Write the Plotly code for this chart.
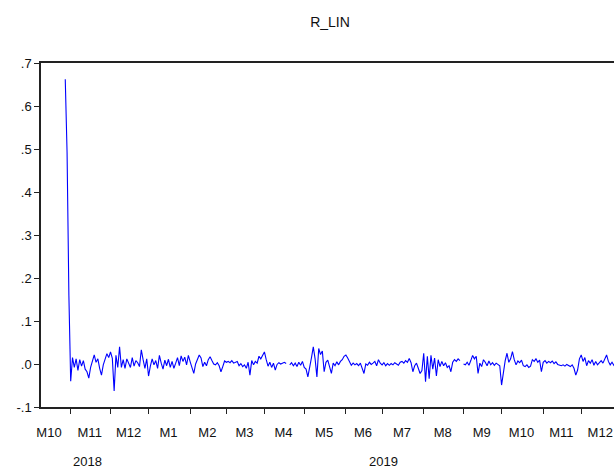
import pandas as pd
import plotly.graph_objects as go

# Daily (5-day week) series R_LIN, first observation 2018-10-29
series_name = "R_LIN"
first_obs = "2018-10-29"
calendar_start = "2018-10-01"
calendar_end = "2019-12-31"

r_lin = [
    0.662, 0.492, 0.160, -0.040, 0.015, -0.008, 0.012, -0.015, 0.010, -0.005,
    0.008, -0.012, -0.018, -0.033, -0.008, 0.010, 0.021, 0.004, 0.012, -0.010,
    -0.026, -0.002, 0.010, 0.024, 0.015, 0.028, 0.013, -0.063, 0.020, -0.008,
    0.040, -0.008, 0.010, -0.010, 0.012, 0.002, -0.008, 0.015, -0.005, 0.008,
    0.003, -0.006, 0.033, 0.010, -0.010, 0.012, -0.028, -0.005, 0.012, -0.002,
    0.008, -0.010, 0.020, 0.002, -0.012, 0.009, -0.004, 0.011, -0.008, 0.006,
    -0.010, 0.002, 0.015, -0.004, 0.019, 0.006, 0.016, -0.002, 0.020, 0.005,
    -0.008, -0.022, 0.000, 0.012, 0.021, 0.014, -0.006, 0.004, -0.004, 0.010,
    0.017, 0.008, 0.000, -0.002, 0.003, -0.004, -0.018, -0.006, 0.007, 0.004,
    0.006, 0.003, 0.008, 0.002, 0.005, 0.006, -0.004, 0.001, -0.006, -0.002,
    -0.010, 0.004, -0.026, 0.008, -0.002, 0.006, 0.002, 0.018, 0.012, 0.022,
    0.028, 0.010, -0.005, 0.004, -0.008, 0.002, -0.014, -0.001, 0.003, 0.000,
    0.002, 0.004, 0.001, None, -0.002, 0.003, -0.004, 0.002, -0.006, 0.004,
    -0.003, 0.006, -0.008, -0.012, -0.030, -0.010, 0.015, 0.040, 0.012, -0.030,
    0.036, 0.022, 0.030, -0.018, 0.004, 0.009, -0.006, -0.022, 0.002, -0.004,
    0.005, -0.002, 0.006, 0.010, 0.018, 0.021, 0.014, 0.004, -0.003, 0.002,
    -0.002, 0.001, -0.004, 0.002, -0.008, -0.022, 0.000, -0.003, 0.004, -0.001,
    0.002, 0.006, -0.004, 0.010, 0.002, -0.002, 0.003, -0.004, 0.001, -0.003,
    0.001, -0.002, 0.003, 0.000, -0.003, 0.004, 0.006, 0.002, 0.008, 0.004,
    0.013, 0.003, -0.018, -0.004, 0.002, -0.010, -0.022, -0.015, 0.025, -0.041,
    0.018, -0.034, 0.020, -0.012, 0.014, -0.028, 0.010, -0.006, 0.006, -0.004,
    0.003, -0.008, -0.004, -0.018, 0.004, 0.010, 0.006, 0.012, 0.008, None,
    0.000, -0.002, 0.004, -0.003, 0.008, 0.020, 0.012, 0.018, -0.022, 0.002,
    -0.006, 0.010, 0.004, -0.004, 0.007, -0.002, 0.003, -0.003, 0.002, -0.001,
    -0.004, -0.049, -0.020, 0.008, 0.025, 0.004, 0.012, 0.029, 0.010, -0.002,
    0.007, 0.003, 0.009, -0.004, -0.006, -0.002, -0.008, -0.005, 0.010, 0.006,
    0.012, 0.004, 0.009, -0.018, 0.004, 0.008, 0.002, 0.006, 0.003, 0.007,
    0.001, 0.005, -0.001, -0.003, -0.004, -0.002, -0.005, -0.001, -0.003, -0.006,
    -0.002, -0.010, -0.026, -0.014, 0.012, 0.021, 0.006, 0.015, -0.004, 0.008,
    0.002, 0.010, -0.003, 0.006, -0.002, 0.004, 0.008, 0.002, 0.012, 0.021,
    0.006, -0.002, 0.004, -0.003, 0.002,
]

y_tick_values = [-0.1, 0.0, 0.1, 0.2, 0.3, 0.4, 0.5, 0.6, 0.7]
y_tick_labels = ["-.1", ".0", ".1", ".2", ".3", ".4", ".5", ".6", ".7"]
x_view = [-13.4, 303.1]   # visible observation window

# Observation index on the x axis; calendar positions relative to first obs
days = pd.bdate_range(calendar_start, calendar_end)
offset = list(days).index(pd.Timestamp(first_obs))
pos = pd.Series(range(len(days)), index=days) - offset

month_key = days.to_period("M")
month_starts, month_centers, month_labels = [], [], []
for m in month_key.unique():
    p = pos[month_key == m]
    month_starts.append(int(p.iloc[0]))
    month_centers.append((p.iloc[0] + p.iloc[-1]) / 2)
    month_labels.append(f"M{m.month}")

year_key = days.year
year_centers, year_labels = [], []
for y in sorted(set(year_key)):
    p = pos[year_key == y]
    year_centers.append((p.iloc[0] + p.iloc[-1]) / 2)
    year_labels.append(str(y))

x_obs = list(range(len(r_lin)))

fig = go.Figure()
fig.add_trace(go.Scatter(
    x=x_obs, y=r_lin, mode="lines",
    line=dict(color="#0000ff", width=1.1),
    connectgaps=False, showlegend=False, hoverinfo="skip",
))

axis_col = "#222222"
fig.update_layout(
    width=614, height=468,
    margin=dict(l=41, r=0, t=63, b=61),
    paper_bgcolor="white", plot_bgcolor="white",
    font=dict(family="Arial, Liberation Sans, sans-serif", size=13, color="#111111"),
    title=dict(text=series_name, x=330 / 614, xanchor="center", xref="container",
               y=1 - 22 / 468, yanchor="middle", yref="container",
               font=dict(size=14, color="#111111")),
    xaxis=dict(
        range=x_view, showgrid=False, zeroline=False,
        showline=True, linecolor=axis_col, linewidth=1.5, mirror=True,
        tickmode="array", tickvals=month_centers, ticktext=month_labels,
        ticks="", ticklabelstandoff=13,
        minor=dict(tickmode="array", tickvals=month_starts, ticks="outside",
                   ticklen=5, tickwidth=1.3, tickcolor=axis_col, showgrid=False),
    ),
    yaxis=dict(
        range=[-0.1, 0.7], showgrid=False, zeroline=False,
        showline=True, linecolor=axis_col, linewidth=1.5, mirror=False,
        tickmode="array", tickvals=y_tick_values, ticktext=y_tick_labels,
        ticks="outside", ticklen=5, tickwidth=1.3, tickcolor=axis_col,
    ),
)

for xc, label in zip(year_centers, year_labels):
    fig.add_annotation(x=xc, y=-0.157, xref="x", yref="paper", text=label,
                       showarrow=False, yanchor="middle", xanchor="center",
                       font=dict(size=13, color="#111111"))

fig.write_html("out.html")
